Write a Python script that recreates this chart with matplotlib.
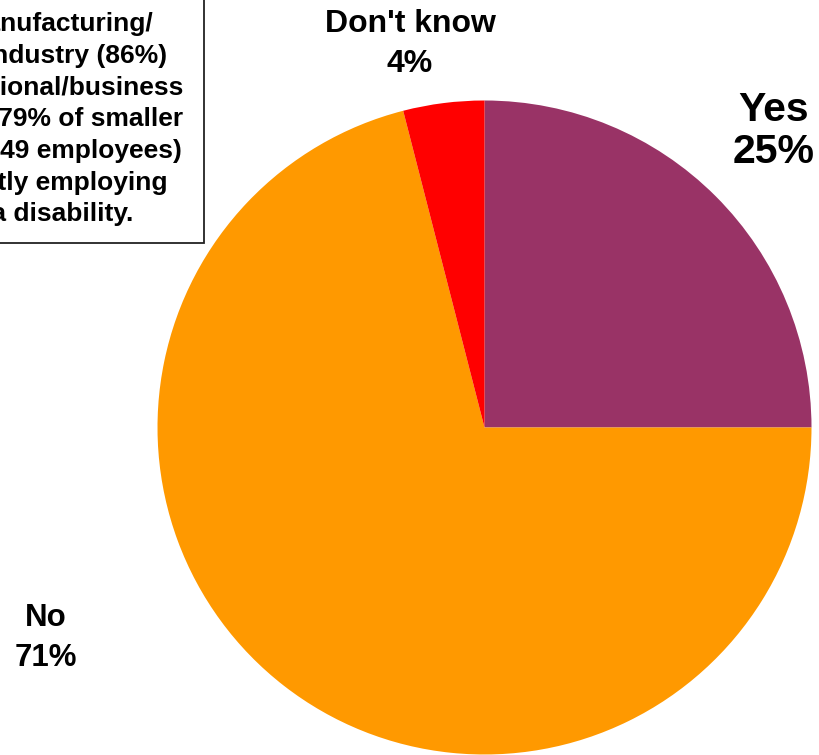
import matplotlib
matplotlib.use("Agg")
from matplotlib import pyplot as plt
from matplotlib.patches import Rectangle

plt.rcParams['font.family'] = ['Liberation Sans', 'DejaVu Sans']
plt.rcParams['font.weight'] = 'bold'

# data, clockwise from 12 o'clock
answers = ['Yes', 'No', "Don't know"]
shares = [25, 71, 4]
colours = ['#993366', '#FF9900', '#FF0000']

note_lines = [
    'Employers in manufacturing/',
    'construction/ industry (86%)',
    'and professional/business',
    'services and 79% of smaller',
    'employers (10-49 employees)',
    'are not currently employing',
    'someone with a disability.',
]

W, H = 819, 755
fig = plt.figure(figsize=(W / 100, H / 100), dpi=100)

# pie centre (484.5, 427.5) px, radius 327 px
cx, cy, r = 484.5, 427.5, 327
ax = fig.add_axes([(cx - r) / W, 1 - (cy + r) / H, 2 * r / W, 2 * r / H])
ax.pie(shares, colors=colours, startangle=90, counterclock=False,
       wedgeprops=dict(linewidth=0))
ax.set_xlim(-1, 1)
ax.set_ylim(-1, 1)
ax.set_aspect('equal')
ax.axis('off')


def px(x, y):
    return (x - cx) / r, (cy - y) / r


# slice labels
lbl_pos = {'Yes': (774, 131), 'No': (46, 638), "Don't know": (410, 44)}
lbl_size = {'Yes': 29.5, 'No': 22.5, "Don't know": 23}
lbl_gap = {'Yes': 1.12, 'No': 1.45, "Don't know": 1.4}
for name, val in zip(answers, shares):
    x, y = px(*lbl_pos[name])
    ax.text(x, y, f'{name}\n{val}%', ha='center', va='center',
            fontsize=lbl_size[name], fontweight='bold',
            linespacing=lbl_gap[name], clip_on=False)

# note box, cut off on the left / top like the original
fig.patches.append(Rectangle((-20 / W, 1 - 243 / H), 224 / W, 263 / H,
                             transform=fig.transFigure, facecolor='white',
                             edgecolor='#222222', linewidth=1.3))
line_ends = [153, 167, 183, 183, 182, 167, 133]
for i, (txt, xe) in enumerate(zip(note_lines, line_ends)):
    yb = 126.3 + (i - 3) * 31.7
    fig.text(xe / W, 1 - yb / H, txt, ha='right', va='baseline',
             fontsize=19, fontweight='bold')

fig.savefig('out.png', dpi=100)
